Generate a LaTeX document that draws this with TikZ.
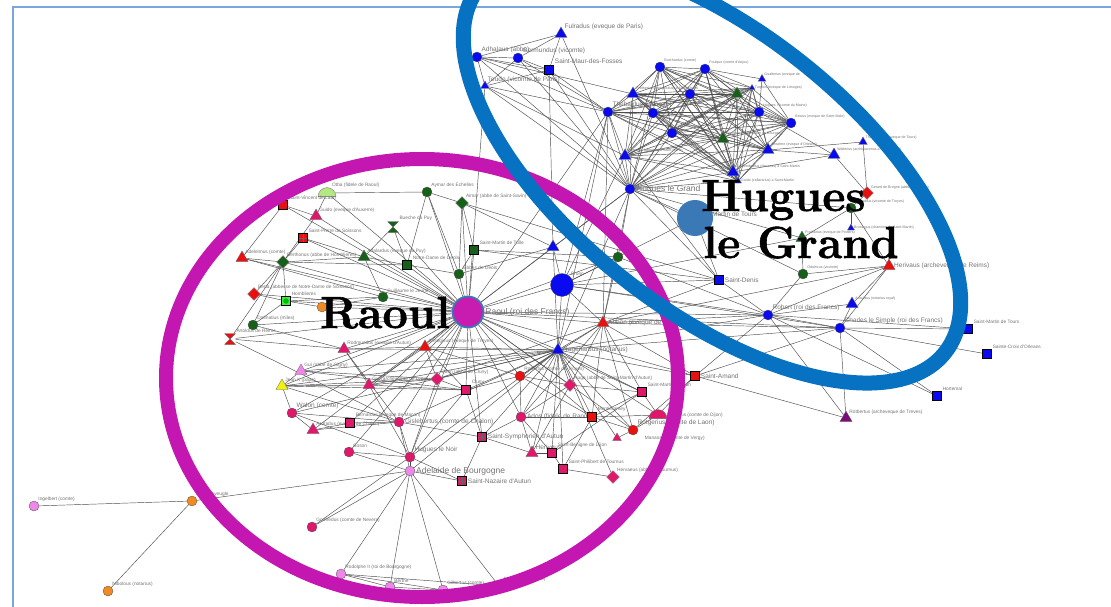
\documentclass[tikz,border=0pt]{standalone}
\usepackage{fontspec}
\newfontfamily\lblfont{Liberation Sans}
\newfontfamily\titlefont{Latin Modern Roman}[BoldFeatures={FakeBold=1.3}]
\usepackage{tikz}
\usetikzlibrary{shapes.geometric,positioning,backgrounds}

\definecolor{nblue}{HTML}{0A0AF0}
\definecolor{ngreen}{HTML}{16601A}
\definecolor{nred}{HTML}{E81010}
\definecolor{nmag}{HTML}{E0186C}
\definecolor{npink}{HTML}{EE88E8}
\definecolor{norange}{HTML}{F08A24}
\definecolor{nyellow}{HTML}{F2F20A}
\definecolor{nlgreen}{HTML}{44EE44}
\definecolor{npale}{HTML}{B4E884}
\definecolor{npurple}{HTML}{7A0C7A}
\definecolor{steel}{HTML}{3B78B6}
\definecolor{raoulc}{HTML}{C81CB0}
\definecolor{ringmag}{HTML}{C417B1}
\definecolor{ringblue}{HTML}{0872C2}
\definecolor{framebl}{HTML}{79A6DE}

\begin{document}
\begin{tikzpicture}[
    x=1pt, y=-1pt,
    cir/.style={circle, draw=black!70, line width=0.3pt, fill=#1, minimum size=10pt, inner sep=0pt},
    tri/.style={regular polygon, regular polygon sides=3, draw=black!60, line width=0.3pt, fill=#1, minimum size=14pt, inner sep=0pt},
    sqr/.style={rectangle, draw=black, line width=0.9pt, fill=#1, minimum size=9pt, inner sep=0pt},
    xsqr/.style={sqr=#1, path picture={\draw[black!60, line width=0.5pt] (path picture bounding box.north) -- (path picture bounding box.south) (path picture bounding box.west) -- (path picture bounding box.east);}},
    dia/.style={diamond, draw=black!50, line width=0.3pt, fill=#1, minimum size=13pt, inner sep=0pt},
    hglass/.style={rectangle, minimum size=11pt, inner sep=0pt, path picture={\fill[#1, draw=black!60] (path picture bounding box.north west) -- (path picture bounding box.north east) -- (path picture bounding box.south west) -- (path picture bounding box.south east) -- cycle;}},
    semi/.style={semicircle, draw=black!60, line width=0.3pt, fill=#1, minimum size=9pt, inner sep=0pt},
    lblt/.style={font=\lblfont\fontsize{3.6}{4}\selectfont, text=black!55, inner sep=0.5pt},
    lbls/.style={font=\lblfont\fontsize{4.8}{5.5}\selectfont, text=black!55, inner sep=0.6pt},
    lblm/.style={font=\lblfont\fontsize{6.5}{7.5}\selectfont, text=black!55, inner sep=0.8pt},
    lblb/.style={font=\lblfont\fontsize{8.5}{9.5}\selectfont, text=black!55, inner sep=0.8pt},
    link/.style={black!70, line width=0.45pt},
    bigname/.style={font=\titlefont\bfseries\fontsize{45}{47}\selectfont, inner sep=0pt}
]
    \useasboundingbox (0,0) rectangle (1111,607);
    \draw[framebl, line width=1.5pt] (13,607) -- (13,7) -- (1111,7);

    % Hugues le Grand and the Saint-Martin group
    \node[tri=nblue, label={[lblm]north east:Fulradus (eveque de Paris)}] (ful) at (561,34) {};
    \node[cir=nblue, label={[lblm]north east:Adhalaus (abbe)}] (adh) at (477,57) {};
    \node[cir=nblue, label={[lblm]north east:Germundus (vicomte)}] (ger) at (518,58) {};
    \node[sqr=nblue, label={[lblm]north east:Saint-Maur-des-Fosses}] (smf) at (549,70) {};
    \node[tri=nblue, minimum size=10pt, label={[lblm]north east:Teudo (vicomte de Paris)}] (teu) at (485,86) {};
    \node[cir=nblue, label={[lblm]north east:Thebaldus (vicomte)}] (the) at (608,112) {};
    \node[cir=nblue, label={[lblt]north east:Burchardus (comte)}] (bur) at (660,67) {};
    \node[cir=nblue, label={[lblt]north east:Foulque (comte d'Anjou)}] (fou) at (705,69) {};
    \node[tri=nblue, minimum size=9pt, label={[lblt]north east:Gualterius (eveque de}] (gua) at (762,79) {};
    \node[tri=nblue, minimum size=7pt, label={[lblt]east:Turpion (eveque de Limoges)}] (tur) at (752,88) {};
    \node[tri=nblue, label={[lblt]north east:Frotherius (praepositus) a Saint-Martin}] (bt1) at (633,94) {};
    \node[cir=nblue] (bc1) at (690,94) {};
    \node[tri=ngreen] (gt1) at (737,94) {};
    \node[cir=nblue, label={[lblt]north east:Hugues I (comte du Maine)}] (hug1) at (759,112) {};
    \node[cir=nblue, label={[lblt]north east:Bricius (eveque de Saint-Malo)}] (bri) at (791,123) {};
    \node[cir=nblue] (bc2) at (653,113) {};
    \node[cir=nblue, label={[lblt]north east:Otto (vicomte)}] (ott) at (672,133) {};
    \node[tri=ngreen, label={[lblt]north east:Geronce (archeveque de Bourges)}] (ger2) at (723,139) {};
    \node[tri=nblue, label={[lblt]north east:Anselme (eveque d'Orleans)}] (ans) at (768,150) {};
    \node[tri=nblue, label={[lblt]north east:Robertus (abbatus) a Saint-Martin}] (rob2) at (625,156) {};
    \node[tri=nblue, label={[lblt]north east:Archembaldus (decanus) a Saint-Martin}] (arc) at (733,172) {};
    \node[tri=nblue, minimum size=8pt, label={[lblt]east:Guido (cellararius) a Saint-Martin}] (gui) at (738,181) {};
    \node[tri=nblue, label={[lblt]north east:Walterius (archidiaconus a Saint-Martin)}] (wal) at (834,155) {};
    \node[tri=nblue, minimum size=10pt, label={[lblt]north east:Theotolo (archeveque de Tours)}] (theo) at (863,142) {};
    \node[dia=nred, label={[lblt]north east:Gerard de Brogne (abbe de Brogne)}] (gbr) at (867,193) {};
    \node[cir=ngreen, label={[lblt]north east:Rainaldus (vicomte de Troyes)}] (rain) at (851,208) {};
    \node[tri=nblue, minimum size=8pt, label={[lblt]east:Bruningus (chanoine de Saint-Martin)}] (brun) at (851,228) {};
    \node[tri=ngreen, label={[lblt]north east:Frotharius (eveque de Poitiers)}] (frot) at (802,238) {};
    \node[cir=ngreen, label={[lblt]north east:Odalricus (vicomte)}] (odal) at (803,274) {};
    \node[tri=nred, label={[lblm]east:Herivaus (archeveque de Reims)}] (her) at (889,266) {};
    \node[tri=nblue, label={[lblt]north east:Ansuldus (notarius royal)}] (ansu) at (852,304) {};
    \node[cir=nblue, label={[lblm]north east:Robert (roi des Francs)}] (robt) at (768,315) {};
    \node[cir=nblue, label={[lblm]north east:Charles le Simple (roi des Francs)}] (cha) at (840,328) {};
    \node[sqr=nblue, label={[lbls]north east:Saint-Martin de Tours}] (smt) at (968,329) {};
    \node[sqr=nblue, label={[lbls]north east:Sainte-Croix d'Orleans}] (scr) at (987,354) {};
    \node[sqr=nblue, label={[lbls]north east:Hortemal}] (hor) at (937,396) {};
    \node[tri=npurple, label={[lbls]north east:Rotbertus (archeveque de Treves)}] (rtv) at (846,418) {};
    \node[cir=nblue, label={[lblb]east:Hugues le Grand}] (hlg) at (630,189) {};
    \node[tri=nblue, label={[lblm]east:Saint-Martin de Tours}] (smtl) at (690,214) {};
    \node[circle, fill=steel, minimum size=36pt, inner sep=0pt] (hubg) at (695,218) {};
    \node[sqr=nblue, label={[lblm]east:Saint-Denis}] (sde) at (719,280) {};
    \node[cir=ngreen] (gc1) at (618,257) {};
    \node[tri=nblue] (bt2) at (553,247) {};
    \node[cir=nblue, minimum size=23pt, label={[lbls]north east:Brono}] (bru) at (562,285) {};
    \node[tri=nred, label={[lblm]east:Abbon (eveque de Soissons)}] (abb) at (603,323) {};
    \node[circle, fill=raoulc, draw=steel, line width=1.8pt, minimum size=31pt, inner sep=0pt, label={[lblb]east:Raoul (roi des Francs)}] (rao) at (468,312) {};
    \node[tri=nblue, label={[lblm]east:Ragenardus (notarius)}] (rag) at (558,350) {};

    % Raoul and the Burgundian group
    \node[semi=npale, label={[lbls]north east:Otba (fidele de Raoul)}] (otb) at (327,193) {};
    \node[sqr=nred, label={[lbls]north east:Saint-Vincent de Laon}] (svl) at (283,205) {};
    \node[tri=nmag, label={[lbls]north east:Guido (eveque d'Auxerre)}] (gau) at (316,216) {};
    \node[xsqr=nred, label={[lbls]north east:Saint-Pierre de Soissons}] (sps) at (303,238) {};
    \node[tri=nred, label={[lbls]north east:Adelelmus (comte)}] (ade) at (242,258) {};
    \node[dia=ngreen, label={[lbls]north east:Berthonus (abbe de Homblieres)}] (ber) at (283,262) {};
    \node[tri=ngreen, label={[lbls]north east:Adalardus (eveque du Puy)}] (adp) at (364,257) {};
    \node[hglass=ngreen, label={[lbls]north east:Bueche du Puy}] (bue) at (393,227) {};
    \node[cir=ngreen, label={[lbls]north east:Aymar des Echelles}] (aym) at (427,192) {};
    \node[dia=ngreen, label={[lbls]north east:Aimar (abbe de Saint-Savin)}] (ais) at (462,203) {};
    \node[sqr=ngreen, label={[lbls]north east:Saint-Martin de Tulle}] (smtu) at (474,250) {};
    \node[sqr=ngreen, label={[lbls]north east:Notre-Dame de Deols}] (nde) at (407,265) {};
    \node[cir=ngreen, label={[lbls]north east:Ebbes de Deols}] (ebd) at (459,274) {};
    \node[cir=ngreen, label={[lbls]north east:Guillaume le Jeune}] (gjl) at (383,297) {};
    \node[cir=norange] (ora) at (322,307) {};
    \node[dia=nred, label={[lbls]north east:Berta (abbesse de Notre-Dame de Soissons)}] (bta) at (254,294) {};
    \node[sqr=nlgreen, path picture={\fill[green!75!black] (path picture bounding box.center) circle (2.8pt);}, label={[lbls]north east:Homblieres}] (hom) at (286,301) {};
    \node[cir=ngreen, label={[lbls]north east:Dalmatius (miles)}] (dal) at (253,325) {};
    \node[hglass=nred, label={[lbls]north east:Artoldus de Reims}] (art) at (230,339) {};
    \node[tri=nmag, label={[lbls]north east:Rodmundus (eveque d'Autun)}] (rod) at (344,349) {};
    \node[tri=nred, label={[lbls]north east:Ansegisus (eveque de Troyes)}] (ase) at (425,347) {};
    \node[tri=npink, label={[lbls]north east:Gui (abbe de Gigny)}] (ggi) at (301,371) {};
    \node[tri=nyellow, label={[lbls]north east:Jean X (pape)}] (jean) at (282,386) {};
    \node[tri=nmag, label={[lbls]north east:Gui (archeveque de Lyon)}] (gly) at (369,385) {};
    \node[dia=nmag, label={[lbls]north east:Odon (abbe de Cluny)}] (odo) at (437,379) {};
    \node[sqr=nmag, label={[lbls]north east:Cluny}] (clu) at (466,390) {};
    \node[cir=nred, label={[lbls]north east:Robertus (comte de Troyes)}] (rct) at (520,376) {};
    \node[dia=nmag, label={[lbls]north east:Hugo (abbe de Saint-Martin d'Autun)}] (hsm) at (570,385) {};
    \node[sqr=nmag, label={[lbls]north east:Saint-Martin d'Autun}] (sma) at (642,392) {};
    \node[sqr=nred, label={[lblm]east:Saint-Amand}] (sam) at (695,376) {};
    \node[cir=nmag, label={[lblm]east:Gislebertus (comte de Chalon)}] (gis) at (399,422) {};
    \node[cir=nmag, label={[lblm]east:Ados (fidele de Raoul)}] (ados) at (521,417) {};
    \node[sqr=nred, label={[lbls]north east:Montieramey}] (mon) at (592,417) {};
    \node[semi=nmag, label={[lbls]east:Rodulfus (comte de Dijon)}] (rdi) at (658,415) {};
    \node[cir=nred, label={[lblm]north east:Rotgerius (comte de Laon)}] (rot) at (633,430) {};
    \node[tri=nmag, minimum size=10pt, label={[lbls, xshift=24pt]east:Manasses (comte de Vergy)}] (mve) at (617,438) {};
    \node[xsqr=nmag, label={[lblm]east:Saint-Symphorien d'Autun}] (ssy) at (482,437) {};
    \node[tri=nmag, label={[lblm]north east:Heriveus}] (hrv) at (532,453) {};
    \node[sqr=nmag, label={[lbls]north east:Saint-Benigne de Dijon}] (sbd) at (552,453) {};
    \node[sqr=nmag, label={[lbls]north east:Saint-Philibert de Tournus}] (spt) at (563,469) {};
    \node[dia=nmag, label={[lbls]north east:Hervaeus (abbe de Tournus)}] (hvt) at (613,477) {};
    \node[cir=nmag, label={[lblm]north east:Hugues le Noir}] (hln) at (410,457) {};
    \node[cir=npink, label={[lblb]east:Adelaide de Bourgogne}] (adb) at (410,471) {};
    \node[xsqr=nmag, label={[lblm]east:Saint-Nazaire d'Autun}] (sna) at (462,481) {};
    \node[cir=nmag, label={[lblm]north east:Walon (comte)}] (wln) at (292,413) {};
    \node[tri=nmag, label={[lbls]north east:Ardradus (eveque de Chalon)}] (ard) at (313,430) {};
    \node[sqr=nmag, label={[lbls]north east:Bernardus (eveque de Macon)}] (bma) at (350,423) {};
    \node[cir=nmag, label={[lbls]north east:Boson}] (bos) at (349,452) {};
    \node[cir=nmag, label={[lbls]north east:Godfredus (comte de Nevers)}] (god) at (312,527) {};
    \node[cir=npink, label={[lbls]north east:Rodolphe II (roi de Bourgogne)}] (rdb) at (341,574) {};
    \node[cir=npink, label={[lbls]north east:Berthe}] (bth) at (390,587) {};
    \node[cir=npink, label={[lbls]north east:Gilbertus (comte)}] (gil) at (443,590) {};
    \node[cir=npink, label={[lbls]north east:Anselmus (vicomte)}] (anm) at (499,586) {};
    \node[cir=norange, label={[lbls]north east:Louis l'Aveugle}] (lav) at (192,501) {};
    \node[cir=npink, label={[lbls]north east:Ingelbert (comte)}] (ing) at (34,506) {};
    \node[cir=norange, label={[lbls]north east:Nibolous (notarius)}] (nib) at (108,591) {};

    \begin{pgfonlayer}{background}
    % Saint-Martin mesh
    \foreach \a [count=\i] in {hlg,the,bur,fou,bt1,bc1,gt1,hug1,bri,bc2,ott,ger2,ans,rob2,arc,tur,gui} {
        \foreach \b [count=\j] in {hlg,the,bur,fou,bt1,bc1,gt1,hug1,bri,bc2,ott,ger2,ans,rob2,arc,tur,gui} {
            \ifnum\j>\i \draw[link] (\a) -- (\b); \fi
        }
    }
    % Raoul
    \foreach \n in {svl,gau,sps,ade,ber,adp,bue,aym,ais,smtu,nde,ebd,gjl,ora,bta,hom,dal,art,rod,ase,ggi,jean,gly,odo,clu,rct,hsm,sma,gis,ados,mon,ssy,hln,wln,ard,bos,bma,bru,abb,rag,hlg,the,cha,robt,sam,rot,bt2,gc1,otb}
        \draw[link] (rao) -- (\n);
    % Ragenardus
    \foreach \n in {abb,bru,ase,rod,gly,odo,clu,rct,hsm,sma,sam,gis,ados,mon,rdi,rot,mve,ssy,hrv,sbd,spt,hln,wln,jean,ggi,cha,robt,the,hlg,bt2,hvt,adb}
        \draw[link] (rag) -- (\n);
    % Abbon
    \foreach \n in {bru,hlg,robt,cha,sam,rot,rct,ados,her,the,sde,gc1,mon,hsm,sma,odo}
        \draw[link] (abb) -- (\n);
    \foreach \a/\b in {ful/adh, ful/ger, ful/smf, adh/ger, adh/smf, adh/teu, ger/smf, ger/teu, smf/teu, adh/the, teu/the, adh/hlg, ger/hlg, smf/hlg, teu/hlg, ful/hlg, teu/rob2, smf/the, adh/bt1, ger/the, teu/rao, smf/bt2,
        gua/hug1, gua/bri, gua/fou, wal/arc, wal/ans, wal/gbr, wal/hug1, theo/gbr, theo/ans, gbr/rain, rain/brun, rain/frot, rain/hlg, frot/odal, frot/hlg, frot/bru, odal/her, odal/hlg, odal/robt, her/ansu, her/cha, her/robt, her/rain, ansu/cha, ansu/robt, cha/robt, cha/smt, robt/smt, cha/scr, cha/hor, robt/hor, cha/rtv, robt/rtv, sam/rtv, sam/robt, sam/cha, robt/sde, robt/bru, sde/hlg, sde/bru, hubg/hlg, hubg/bru, hubg/sde, gc1/hlg, gc1/bru, bt2/hlg, bt2/bru, bt2/ebd, ais/bt2, ais/sde, smtu/gc1, smtu/sde, cha/bru, robt/gc1, the/bru, rob2/bru, rob2/sde}
        \draw[link] (\a) -- (\b);
    \foreach \a/\b in {svl/ade, svl/gau, otb/aym, otb/gau, gau/ber, sps/ber, sps/adp, ade/ber, ade/gjl, ber/dal, ber/hom, ber/bta, ber/art, ber/adp, ber/nde, adp/bue, adp/nde, adp/gjl, bue/nde, aym/ais, aym/ebd, aym/nde, ais/smtu, ais/ebd, smtu/ebd, nde/ebd, bta/hom, hom/ora, hom/gjl, dal/rod, dal/hom, art/rod, art/gis, ora/gjl,
        rod/ase, rod/gly, rod/gis, ase/gly, ase/odo, ase/clu, ase/rct, ggi/clu, ggi/odo, ggi/jean, jean/gly, jean/odo, jean/clu, jean/gis, jean/wln, gly/odo, gly/clu, odo/clu, clu/rct, rct/hsm, hsm/sma, hsm/ados, sma/rdi, sma/mon, mon/rdi, mon/rot, rot/rdi, rot/mve, rot/sam, sam/rdi, ados/hrv, ados/sbd, ados/ssy, ssy/hrv, ssy/sna, ssy/gis, sbd/spt, spt/hvt, sbd/hrv,
        gis/hln, gis/wln, gis/ard, gis/bma, gis/adb, wln/ard, wln/hln, ard/bma, bos/hln, bos/adb, hln/adb, hln/sna, adb/sna, adb/god, adb/rdb, adb/bth, adb/gil, adb/anm, adb/lav, hln/god, rdb/bth, rdb/gil, rdb/anm, bth/gil, gil/anm, lav/ing, lav/nib, clu/hln, odo/hln, gly/hln, rct/ados, clu/ssy, hsm/hrv, sma/sbd, mon/spt, ados/mon, rct/mon}
        \draw[link] (\a) -- (\b);
    \end{pgfonlayer}

    % the two circled groups
    \draw[ringmag, line width=14pt] (422,378) ellipse [x radius=256, y radius=219];
    \draw[ringblue, line width=15pt, rotate around={-38:(712,170)}] (712,170) ellipse [x radius=296, y radius=140];

    \node[bigname, anchor=base west] (hugt) at (701,211) {Hugues};
    \node[bigname, anchor=base west] (legr) at (703,258) {le Grand};
    \node[bigname, anchor=base west] (raot) at (320,328) {Raoul};
\end{tikzpicture}
\end{document}
